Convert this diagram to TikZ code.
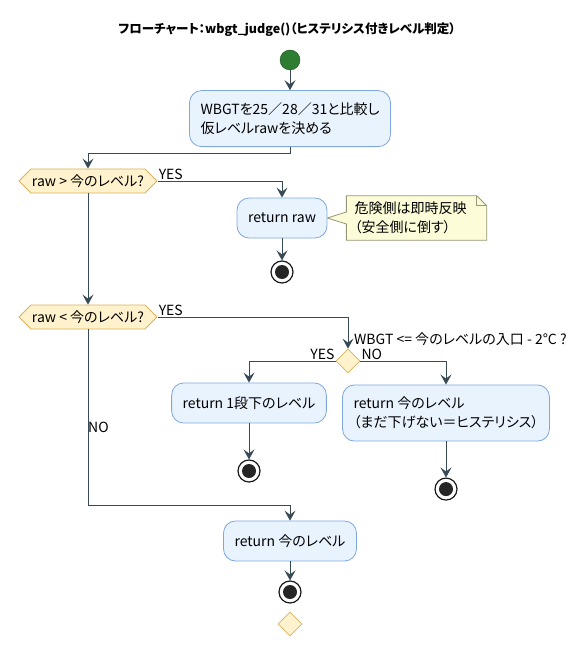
\documentclass[tikz,border=0pt]{standalone}
\usepackage{fontspec}
\setmainfont{Noto Sans CJK JP}[RawFeature={+palt}]
\usepackage{tikz}
\usetikzlibrary{positioning,calc,backgrounds,arrows.meta,shapes.geometric,shapes.symbols}
\definecolor{flowline}{RGB}{56,74,86}
\definecolor{actfill}{RGB}{233,243,253}
\definecolor{actdraw}{RGB}{126,168,223}
\definecolor{decfill}{RGB}{255,242,204}
\definecolor{decdraw}{RGB}{214,179,96}
\definecolor{notefill}{RGB}{252,252,216}
\definecolor{notedraw}{RGB}{150,150,120}
\definecolor{startfill}{RGB}{46,125,50}

\begin{document}
\begin{tikzpicture}[x=1pt, y=1pt,
  font=\fontsize{14}{19}\selectfont,
  act/.style={draw=actdraw, fill=actfill, line width=0.8pt, rounded corners=12pt, minimum height=40pt, inner xsep=11pt, inner ysep=12pt, align=left},
  dec/.style={shape=signal, signal to=west and east, signal pointer angle=90, draw=decdraw, fill=decfill, line width=0.8pt, minimum height=24pt, inner xsep=1pt, inner ysep=0pt},
  choice/.style={diamond, draw=decdraw, fill=decfill, line width=0.8pt, minimum size=24pt, inner sep=0pt},
  notebox/.style={inner xsep=8pt, inner ysep=6pt, text width=124pt, align=left},
  startnode/.style={circle, fill=startfill, draw=startfill!65!black, minimum size=20pt, inner sep=0pt},
  endnode/.style={circle, draw=black!90, fill=white, line width=1.2pt, minimum size=22pt, inner sep=0pt,
    path picture={\fill[black!85] (path picture bounding box.center) circle (7pt);}},
  flow/.style={draw=flowline, line width=1pt, -{Stealth[length=10pt, width=11pt, inset=4pt]}},
  lbl/.style={inner sep=1pt}]
\useasboundingbox (0,0) rectangle (585,-647);
\node[font=\fontsize{12.5}{15}\selectfont\bfseries] (title) at (287,-30) {フローチャート：wbgt\_judge()（ヒステリシス付きレベル判定）};
\node[startnode] (start) at (290,-60) {};
\node[act, below=20pt of start] (calc) {WBGTを25／28／31と比較し\\仮レベルrawを決める};
\node[dec] (chkup) at (88,-181) {raw > 今のレベル?};
\node[act] (retraw) at (282,-218) {return raw};
\node[notebox, right=19pt of retraw] (warn) {危険側は即時反映\\（安全側に倒す）};
\node[endnode, below=22pt of retraw] (end1) {};
\node[dec] (chkdown) at (88,-317) {raw < 今のレベル?};
\node[choice] (hyst) at (348,-361) {};
\node[act] (down1) at (249,-403) {return 1段下のレベル};
\node[endnode, below=36pt of down1] (end3) {};
\node[act] (stay) at (446,-413) {return 今のレベル\\（まだ下げない＝ヒステリシス）};
\node[endnode, below=36pt of stay] (end4) {};
\node[act] (keep) at (290,-541) {return 今のレベル};
\node[endnode, below=19pt of keep] (end5) {};
\node[choice] (final) at (290,-624) {};
%
\begin{scope}[on background layer]
\draw[draw=notedraw, fill=notefill, line width=0.8pt]
  (warn.south west) -- ($(warn.west)+(0,-6)$) -- (retraw.east) -- ($(warn.west)+(0,6)$)
  -- (warn.north west) -- ($(warn.north east)+(-10,0)$) -- ($(warn.north east)+(0,-10)$)
  -- (warn.south east) -- cycle;
\draw[draw=notedraw, line width=0.8pt] ($(warn.north east)+(-10,0)$) |- ($(warn.north east)+(0,-10)$);
\end{scope}
%
\node[lbl, anchor=south west] (yes1) at (chkup.east) {YES};
\node[lbl, anchor=south west] (yes2) at (chkdown.east) {YES};
\node[lbl, anchor=west, inner sep=0pt] (ask) at ($(hyst.north)+(6,9)$) {WBGT <= 今のレベルの入口 - 2°C ?};
\node[lbl, anchor=east, inner sep=0pt] (yes3) at ($(hyst.west)+(-1,7)$) {YES};
\node[lbl, anchor=west, inner sep=0pt] (no3) at ($(hyst.east)+(1,7)$) {NO};
\node[lbl, anchor=west, inner sep=0pt] (no2) at (88,-427) {NO};
%
\draw[flow] (start) -- (calc);
\draw[flow] (calc.south) -- ++(0,-6) -| (chkup.north);
\draw[flow] (chkup.east) -| (retraw.north);
\draw[flow] (retraw) -- (end1);
\draw[flow] (chkup.south) -- (chkdown.north);
\draw[flow] (chkdown.east) -| (hyst.north);
\draw[flow] (hyst.west) -| (down1.north);
\draw[flow] (down1) -- (end3);
\draw[flow] (hyst.east) -| (stay.north);
\draw[flow] (stay) -- (end4);
\draw[flow] (chkdown.south) -- ++(0,-176) -| (keep.north);
\draw[flow] (keep) -- (end5);
\end{tikzpicture}
\end{document}
